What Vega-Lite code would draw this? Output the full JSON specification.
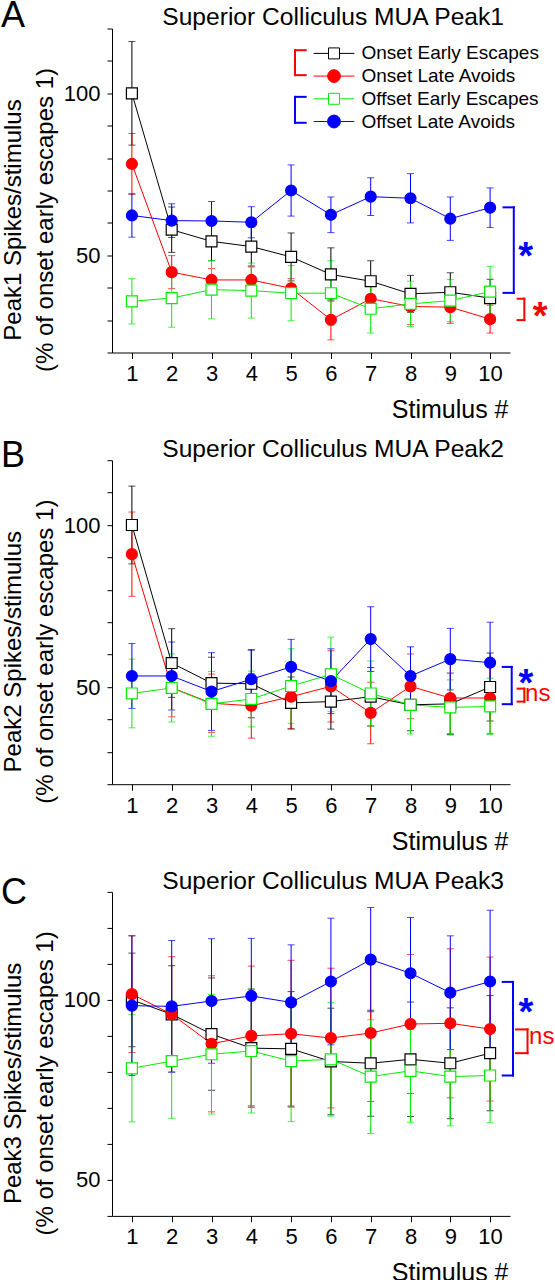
{
"$schema":"https://vega.github.io/schema/vega-lite/v6.json",
"background":"white",
"padding":{"left":0,"top":-2.5,"right":0,"bottom":0},
"config":{
 "font":"Liberation Sans",
 "view":{"stroke":null},
 "axis":{"domainColor":"#000","tickColor":"#000","labelColor":"#000","titleColor":"#000","grid":false,"labelFontSize":22,"titleFontSize":24,"titleFontWeight":"normal","domainWidth":1,"tickWidth":1,"labelFlush":false,"labelOverlap":false},
 "axisX":{"tickSize":6,"labelPadding":5,"tickCount":10,"format":"d","titleX":396,"titleY":65,"titleAlign":"right","titleBaseline":"alphabetic","titleAnchor":"end","titleFontSize":25},
 "axisY":{"tickSize":5,"labelPadding":7,"tickCount":10,"labelExpr":"datum.value % 50 === 0 ? datum.label : ''","titleX":-99,"titleY":191,"titleAlign":"center","titleBaseline":"middle","titleAngle":270,"titleLineHeight":32}
},
"datasets":{"d":[
{"panel":"A","series":"Onset Early Escapes","stim":1,"mean":100,"err":16},
{"panel":"A","series":"Onset Early Escapes","stim":2,"mean":57.9,"err":7},
{"panel":"A","series":"Onset Early Escapes","stim":3,"mean":54.3,"err":6},
{"panel":"A","series":"Onset Early Escapes","stim":4,"mean":52.7,"err":6},
{"panel":"A","series":"Onset Early Escapes","stim":5,"mean":49.5,"err":7.4},
{"panel":"A","series":"Onset Early Escapes","stim":6,"mean":44.1,"err":8.2},
{"panel":"A","series":"Onset Early Escapes","stim":7,"mean":42.0,"err":6.3},
{"panel":"A","series":"Onset Early Escapes","stim":8,"mean":38.1,"err":5.7},
{"panel":"A","series":"Onset Early Escapes","stim":9,"mean":38.6,"err":6},
{"panel":"A","series":"Onset Early Escapes","stim":10,"mean":36.8,"err":5.8},
{"panel":"A","series":"Onset Late Avoids","stim":1,"mean":78.2,"err":9.4},
{"panel":"A","series":"Onset Late Avoids","stim":2,"mean":44.8,"err":5.1},
{"panel":"A","series":"Onset Late Avoids","stim":3,"mean":42.4,"err":3.5},
{"panel":"A","series":"Onset Late Avoids","stim":4,"mean":42.4,"err":4},
{"panel":"A","series":"Onset Late Avoids","stim":5,"mean":39.8,"err":3},
{"panel":"A","series":"Onset Late Avoids","stim":6,"mean":30.1,"err":6.2},
{"panel":"A","series":"Onset Late Avoids","stim":7,"mean":36.6,"err":4},
{"panel":"A","series":"Onset Late Avoids","stim":8,"mean":34.2,"err":5.6},
{"panel":"A","series":"Onset Late Avoids","stim":9,"mean":34.0,"err":5},
{"panel":"A","series":"Onset Late Avoids","stim":10,"mean":30.3,"err":4.3},
{"panel":"A","series":"Offset Early Escapes","stim":1,"mean":35.8,"err":7},
{"panel":"A","series":"Offset Early Escapes","stim":2,"mean":36.8,"err":9},
{"panel":"A","series":"Offset Early Escapes","stim":3,"mean":39.4,"err":9},
{"panel":"A","series":"Offset Early Escapes","stim":4,"mean":39.1,"err":8.5},
{"panel":"A","series":"Offset Early Escapes","stim":5,"mean":38.3,"err":8.5},
{"panel":"A","series":"Offset Early Escapes","stim":6,"mean":38.3,"err":10},
{"panel":"A","series":"Offset Early Escapes","stim":7,"mean":33.5,"err":7.5},
{"panel":"A","series":"Offset Early Escapes","stim":8,"mean":35.0,"err":7},
{"panel":"A","series":"Offset Early Escapes","stim":9,"mean":36.0,"err":6.5},
{"panel":"A","series":"Offset Early Escapes","stim":10,"mean":38.8,"err":7.8},
{"panel":"A","series":"Offset Late Avoids","stim":1,"mean":62.3,"err":6.7},
{"panel":"A","series":"Offset Late Avoids","stim":2,"mean":60.7,"err":5.2},
{"panel":"A","series":"Offset Late Avoids","stim":3,"mean":60.6,"err":6},
{"panel":"A","series":"Offset Late Avoids","stim":4,"mean":60.2,"err":4.8},
{"panel":"A","series":"Offset Late Avoids","stim":5,"mean":70.0,"err":7.9},
{"panel":"A","series":"Offset Late Avoids","stim":6,"mean":62.5,"err":5.5},
{"panel":"A","series":"Offset Late Avoids","stim":7,"mean":68.1,"err":5.8},
{"panel":"A","series":"Offset Late Avoids","stim":8,"mean":67.6,"err":7.6},
{"panel":"A","series":"Offset Late Avoids","stim":9,"mean":61.3,"err":6.7},
{"panel":"A","series":"Offset Late Avoids","stim":10,"mean":64.7,"err":6.1},
{"panel":"B","series":"Onset Early Escapes","stim":1,"mean":100,"err":12},
{"panel":"B","series":"Onset Early Escapes","stim":2,"mean":57.4,"err":10.6},
{"panel":"B","series":"Onset Early Escapes","stim":3,"mean":51.2,"err":8},
{"panel":"B","series":"Onset Early Escapes","stim":4,"mean":51.0,"err":10.5},
{"panel":"B","series":"Onset Early Escapes","stim":5,"mean":45.1,"err":8},
{"panel":"B","series":"Onset Early Escapes","stim":6,"mean":45.5,"err":8.5},
{"panel":"B","series":"Onset Early Escapes","stim":7,"mean":47.0,"err":9},
{"panel":"B","series":"Onset Early Escapes","stim":8,"mean":44.5,"err":8},
{"panel":"B","series":"Onset Early Escapes","stim":9,"mean":44.8,"err":9.5},
{"panel":"B","series":"Onset Early Escapes","stim":10,"mean":50.0,"err":10.5},
{"panel":"B","series":"Onset Late Avoids","stim":1,"mean":91.0,"err":13},
{"panel":"B","series":"Onset Late Avoids","stim":2,"mean":49.8,"err":9},
{"panel":"B","series":"Onset Late Avoids","stim":3,"mean":45.0,"err":9},
{"panel":"B","series":"Onset Late Avoids","stim":4,"mean":44.2,"err":10},
{"panel":"B","series":"Onset Late Avoids","stim":5,"mean":47.0,"err":10},
{"panel":"B","series":"Onset Late Avoids","stim":6,"mean":50.2,"err":11},
{"panel":"B","series":"Onset Late Avoids","stim":7,"mean":42.0,"err":9.5},
{"panel":"B","series":"Onset Late Avoids","stim":8,"mean":50.2,"err":10},
{"panel":"B","series":"Onset Late Avoids","stim":9,"mean":46.6,"err":11},
{"panel":"B","series":"Onset Late Avoids","stim":10,"mean":46.6,"err":11},
{"panel":"B","series":"Offset Early Escapes","stim":1,"mean":48.0,"err":10.6},
{"panel":"B","series":"Offset Early Escapes","stim":2,"mean":49.7,"err":10.5},
{"panel":"B","series":"Offset Early Escapes","stim":3,"mean":44.8,"err":10},
{"panel":"B","series":"Offset Early Escapes","stim":4,"mean":46.3,"err":8.6},
{"panel":"B","series":"Offset Early Escapes","stim":5,"mean":50.3,"err":11.5},
{"panel":"B","series":"Offset Early Escapes","stim":6,"mean":53.9,"err":11.5},
{"panel":"B","series":"Offset Early Escapes","stim":7,"mean":48.0,"err":10},
{"panel":"B","series":"Offset Early Escapes","stim":8,"mean":44.5,"err":9},
{"panel":"B","series":"Offset Early Escapes","stim":9,"mean":43.7,"err":8.5},
{"panel":"B","series":"Offset Early Escapes","stim":10,"mean":44.0,"err":8.7},
{"panel":"B","series":"Offset Late Avoids","stim":1,"mean":53.4,"err":10},
{"panel":"B","series":"Offset Late Avoids","stim":2,"mean":53.4,"err":10.5},
{"panel":"B","series":"Offset Late Avoids","stim":3,"mean":48.6,"err":12},
{"panel":"B","series":"Offset Late Avoids","stim":4,"mean":52.4,"err":9},
{"panel":"B","series":"Offset Late Avoids","stim":5,"mean":56.2,"err":8.5},
{"panel":"B","series":"Offset Late Avoids","stim":6,"mean":51.8,"err":10},
{"panel":"B","series":"Offset Late Avoids","stim":7,"mean":64.8,"err":10},
{"panel":"B","series":"Offset Late Avoids","stim":8,"mean":53.4,"err":9},
{"panel":"B","series":"Offset Late Avoids","stim":9,"mean":58.6,"err":9.5},
{"panel":"B","series":"Offset Late Avoids","stim":10,"mean":57.5,"err":12.5},
{"panel":"C","series":"Onset Early Escapes","stim":1,"mean":100,"err":13},
{"panel":"C","series":"Onset Early Escapes","stim":2,"mean":96.0,"err":13.5},
{"panel":"C","series":"Onset Early Escapes","stim":3,"mean":90.5,"err":15.6},
{"panel":"C","series":"Onset Early Escapes","stim":4,"mean":86.6,"err":16.4},
{"panel":"C","series":"Onset Early Escapes","stim":5,"mean":86.4,"err":15.9},
{"panel":"C","series":"Onset Early Escapes","stim":6,"mean":82.9,"err":14.8},
{"panel":"C","series":"Onset Early Escapes","stim":7,"mean":82.4,"err":14.7},
{"panel":"C","series":"Onset Early Escapes","stim":8,"mean":83.5,"err":15.9},
{"panel":"C","series":"Onset Early Escapes","stim":9,"mean":82.4,"err":15.4},
{"panel":"C","series":"Onset Early Escapes","stim":10,"mean":85.2,"err":16},
{"panel":"C","series":"Onset Late Avoids","stim":1,"mean":101.6,"err":16.2},
{"panel":"C","series":"Onset Late Avoids","stim":2,"mean":96.0,"err":16},
{"panel":"C","series":"Onset Late Avoids","stim":3,"mean":87.8,"err":18.9},
{"panel":"C","series":"Onset Late Avoids","stim":4,"mean":90.0,"err":19.4},
{"panel":"C","series":"Onset Late Avoids","stim":5,"mean":90.6,"err":20.4},
{"panel":"C","series":"Onset Late Avoids","stim":6,"mean":89.4,"err":19.4},
{"panel":"C","series":"Onset Late Avoids","stim":7,"mean":90.8,"err":19},
{"panel":"C","series":"Onset Late Avoids","stim":8,"mean":93.3,"err":19.3},
{"panel":"C","series":"Onset Late Avoids","stim":9,"mean":93.5,"err":20.7},
{"panel":"C","series":"Onset Late Avoids","stim":10,"mean":91.9,"err":20},
{"panel":"C","series":"Offset Early Escapes","stim":1,"mean":81.0,"err":14.9},
{"panel":"C","series":"Offset Early Escapes","stim":2,"mean":83.0,"err":15.9},
{"panel":"C","series":"Offset Early Escapes","stim":3,"mean":84.9,"err":16.6},
{"panel":"C","series":"Offset Early Escapes","stim":4,"mean":85.8,"err":17.2},
{"panel":"C","series":"Offset Early Escapes","stim":5,"mean":83.0,"err":16.8},
{"panel":"C","series":"Offset Early Escapes","stim":6,"mean":83.5,"err":15.8},
{"panel":"C","series":"Offset Early Escapes","stim":7,"mean":78.7,"err":15.8},
{"panel":"C","series":"Offset Early Escapes","stim":8,"mean":80.3,"err":14.3},
{"panel":"C","series":"Offset Early Escapes","stim":9,"mean":78.7,"err":13.7},
{"panel":"C","series":"Offset Early Escapes","stim":10,"mean":79.0,"err":13.1},
{"panel":"C","series":"Offset Late Avoids","stim":1,"mean":98.4,"err":19.4},
{"panel":"C","series":"Offset Late Avoids","stim":2,"mean":98.2,"err":18.3},
{"panel":"C","series":"Offset Late Avoids","stim":3,"mean":99.7,"err":17.3},
{"panel":"C","series":"Offset Late Avoids","stim":4,"mean":101.1,"err":16},
{"panel":"C","series":"Offset Late Avoids","stim":5,"mean":99.3,"err":16},
{"panel":"C","series":"Offset Late Avoids","stim":6,"mean":105.1,"err":17.6},
{"panel":"C","series":"Offset Late Avoids","stim":7,"mean":111.2,"err":14.5},
{"panel":"C","series":"Offset Late Avoids","stim":8,"mean":107.4,"err":15.5},
{"panel":"C","series":"Offset Late Avoids","stim":9,"mean":102.0,"err":15.8},
{"panel":"C","series":"Offset Late Avoids","stim":10,"mean":105.1,"err":19.8}
]},
"bounds":"flush",
"spacing":107.7,
"resolve":{"scale":{"x":"independent","y":"independent"},"legend":{"stroke":"independent"}},
"vconcat":[
{
 "width":398,"height":324,
 "layer":[
  {"data":{"name":"d"},"transform":[{"filter":"datum.panel === 'A'"}],
   "layer":[
    {"mark":{"type":"errorbar","ticks":{"size":7,"thickness":1},"rule":{"strokeWidth":1}},
     "encoding":{"x":{"field":"stim","type":"quantitative","scale":{"domain":[0.5,10.5],"nice":false,"zero":false},"title":"Stimulus #"},
      "y":{"field":"mean","type":"quantitative","scale":{"domain":[20,120],"nice":false,"zero":false},"title":["Peak1 Spikes/stimulus","(% of onset early escapes 1)"]},
      "yError":{"field":"err"},
      "color":{"field":"series","type":"nominal","scale":{"domain":["Onset Early Escapes","Onset Late Avoids","Offset Early Escapes","Offset Late Avoids"],"range":["#000000","#ff0000","#00ee00","#0000ff"]},"legend":null}}},
    {"mark":{"type":"line","strokeWidth":1},
     "encoding":{"x":{"field":"stim","type":"quantitative","scale":{"domain":[0.5,10.5],"nice":false,"zero":false},"title":"Stimulus #"},
      "y":{"field":"mean","type":"quantitative","scale":{"domain":[20,120],"nice":false,"zero":false},"title":["Peak1 Spikes/stimulus","(% of onset early escapes 1)"]},
      "color":{"field":"series","type":"nominal","scale":{"domain":["Onset Early Escapes","Onset Late Avoids","Offset Early Escapes","Offset Late Avoids"],"range":["#000000","#ff0000","#00ee00","#0000ff"]},"legend":null}}},
    {"mark":{"type":"point","size":120,"opacity":1,"strokeWidth":1.2},
     "encoding":{"x":{"field":"stim","type":"quantitative","scale":{"domain":[0.5,10.5],"nice":false,"zero":false},"title":"Stimulus #"},
      "y":{"field":"mean","type":"quantitative","scale":{"domain":[20,120],"nice":false,"zero":false},"title":["Peak1 Spikes/stimulus","(% of onset early escapes 1)"]},
      "stroke":{"field":"series","type":"nominal","scale":{"domain":["Onset Early Escapes","Onset Late Avoids","Offset Early Escapes","Offset Late Avoids"],"range":["#000000","#ff0000","#00ee00","#0000ff"]},
        "legend":{"orient":"none","legendX":212.5,"legendY":15.4,"title":null,"padding":0,"symbolSize":324,"symbolStrokeWidth":1,"labelFontSize":19,"labelColor":"#000","labelOffset":18,"rowPadding":2.7,"labelLimit":400,
          "encoding":{"symbols":{
            "shape":{"value":{"expr":"(datum.value === 'Onset Late Avoids' || datum.value === 'Offset Late Avoids') ? 'M-2.26,0H-0.71M0.71,0H2.26M-0.71,0A0.71,0.71,0,1,1,0.71,0A0.71,0.71,0,1,1,-0.71,0Z' : 'M-2.26,0H-0.61M0.61,0H2.26M-0.61,-0.61H0.61V0.61H-0.61Z'"}},
            "fill":{"value":{"expr":"datum.value === 'Onset Late Avoids' ? '#ff0000' : datum.value === 'Offset Late Avoids' ? '#0000ff' : '#ffffff'"}},
            "stroke":{"value":{"expr":"datum.value === 'Onset Early Escapes' ? '#000000' : datum.value === 'Onset Late Avoids' ? '#ff0000' : datum.value === 'Offset Early Escapes' ? '#00ee00' : '#0000ff'"}},
            "opacity":{"value":1},"size":{"value":324},"strokeWidth":{"value":1}}}}},
      "fill":{"field":"series","type":"nominal","scale":{"domain":["Onset Early Escapes","Onset Late Avoids","Offset Early Escapes","Offset Late Avoids"],"range":["#ffffff","#ff0000","#ffffff","#0000ff"]},"legend":null},
      "shape":{"field":"series","type":"nominal","scale":{"domain":["Onset Early Escapes","Onset Late Avoids","Offset Early Escapes","Offset Late Avoids"],"range":["square","circle","square","circle"]},"legend":null}}}
   ]},
  {"data":{"values":[{}]},"mark":{"type":"text","text":"Superior Colliculus MUA Peak1","fontSize":24.6,"color":"#000","align":"right","baseline":"alphabetic","clip":false},"encoding":{"x":{"datum":10.349,"scale":{"domain":[0.5,10.5],"nice":false,"zero":false}},"y":{"datum":120.93,"scale":{"domain":[20,120],"nice":false,"zero":false}}}},
  {"data":{"values":[{}]},"mark":{"type":"rule","color":"#0000ff","strokeWidth":2,"strokeCap":"square","clip":false},"encoding":{"x":{"datum":10.337,"scale":{"domain":[0.5,10.5],"nice":false,"zero":false}},"x2":{"datum":10.595},"y":{"datum":64.8,"scale":{"domain":[20,120],"nice":false,"zero":false}}}},
  {"data":{"values":[{}]},"mark":{"type":"rule","color":"#0000ff","strokeWidth":2,"strokeCap":"square","clip":false},"encoding":{"x":{"datum":10.337,"scale":{"domain":[0.5,10.5],"nice":false,"zero":false}},"x2":{"datum":10.595},"y":{"datum":38.4,"scale":{"domain":[20,120],"nice":false,"zero":false}}}},
  {"data":{"values":[{}]},"mark":{"type":"rule","color":"#0000ff","strokeWidth":2,"strokeCap":"square","clip":false},"encoding":{"x":{"datum":10.595,"scale":{"domain":[0.5,10.5],"nice":false,"zero":false}},"y":{"datum":64.8,"scale":{"domain":[20,120],"nice":false,"zero":false}},"y2":{"datum":38.4}}},
  {"data":{"values":[{}]},"mark":{"type":"rule","color":"#ff0000","strokeWidth":2,"strokeCap":"square","clip":false},"encoding":{"x":{"datum":10.69,"scale":{"domain":[0.5,10.5],"nice":false,"zero":false}},"x2":{"datum":10.86},"y":{"datum":36.6,"scale":{"domain":[20,120],"nice":false,"zero":false}}}},
  {"data":{"values":[{}]},"mark":{"type":"rule","color":"#ff0000","strokeWidth":2,"strokeCap":"square","clip":false},"encoding":{"x":{"datum":10.69,"scale":{"domain":[0.5,10.5],"nice":false,"zero":false}},"x2":{"datum":10.86},"y":{"datum":30.0,"scale":{"domain":[20,120],"nice":false,"zero":false}}}},
  {"data":{"values":[{}]},"mark":{"type":"rule","color":"#ff0000","strokeWidth":2,"strokeCap":"square","clip":false},"encoding":{"x":{"datum":10.86,"scale":{"domain":[0.5,10.5],"nice":false,"zero":false}},"y":{"datum":36.6,"scale":{"domain":[20,120],"nice":false,"zero":false}},"y2":{"datum":30.0}}},
  {"data":{"values":[{}]},"mark":{"type":"rule","color":"#ff0000","strokeWidth":2,"strokeCap":"square","clip":false},"encoding":{"x":{"datum":5.098,"scale":{"domain":[0.5,10.5],"nice":false,"zero":false}},"x2":{"datum":5.367},"y":{"datum":113.3,"scale":{"domain":[20,120],"nice":false,"zero":false}}}},
  {"data":{"values":[{}]},"mark":{"type":"rule","color":"#ff0000","strokeWidth":2,"strokeCap":"square","clip":false},"encoding":{"x":{"datum":5.098,"scale":{"domain":[0.5,10.5],"nice":false,"zero":false}},"x2":{"datum":5.367},"y":{"datum":105.6,"scale":{"domain":[20,120],"nice":false,"zero":false}}}},
  {"data":{"values":[{}]},"mark":{"type":"rule","color":"#ff0000","strokeWidth":2,"strokeCap":"square","clip":false},"encoding":{"x":{"datum":5.098,"scale":{"domain":[0.5,10.5],"nice":false,"zero":false}},"y":{"datum":113.3,"scale":{"domain":[20,120],"nice":false,"zero":false}},"y2":{"datum":105.6}}},
  {"data":{"values":[{}]},"mark":{"type":"rule","color":"#0000ff","strokeWidth":2,"strokeCap":"square","clip":false},"encoding":{"x":{"datum":5.098,"scale":{"domain":[0.5,10.5],"nice":false,"zero":false}},"x2":{"datum":5.367},"y":{"datum":98.9,"scale":{"domain":[20,120],"nice":false,"zero":false}}}},
  {"data":{"values":[{}]},"mark":{"type":"rule","color":"#0000ff","strokeWidth":2,"strokeCap":"square","clip":false},"encoding":{"x":{"datum":5.098,"scale":{"domain":[0.5,10.5],"nice":false,"zero":false}},"x2":{"datum":5.367},"y":{"datum":90.9,"scale":{"domain":[20,120],"nice":false,"zero":false}}}},
  {"data":{"values":[{}]},"mark":{"type":"rule","color":"#0000ff","strokeWidth":2,"strokeCap":"square","clip":false},"encoding":{"x":{"datum":5.098,"scale":{"domain":[0.5,10.5],"nice":false,"zero":false}},"y":{"datum":98.9,"scale":{"domain":[20,120],"nice":false,"zero":false}},"y2":{"datum":90.9}}},
  {"data":{"values":[{}]},"mark":{"type":"text","text":"*","fontSize":38,"fontWeight":"bold","color":"#0000ff","align":"center","baseline":"alphabetic","dy":21,"clip":false},"encoding":{"x":{"datum":10.895,"scale":{"domain":[0.5,10.5],"nice":false,"zero":false}},"y":{"datum":52.1,"scale":{"domain":[20,120],"nice":false,"zero":false}}}},
  {"data":{"values":[{}]},"mark":{"type":"text","text":"*","fontSize":38,"fontWeight":"bold","color":"#ff0000","align":"center","baseline":"alphabetic","dy":21,"clip":false},"encoding":{"x":{"datum":11.26,"scale":{"domain":[0.5,10.5],"nice":false,"zero":false}},"y":{"datum":33.6,"scale":{"domain":[20,120],"nice":false,"zero":false}}}},
  {"data":{"values":[{}]},"mark":{"type":"text","text":"A","fontSize":36,"color":"#000","align":"left","baseline":"alphabetic","clip":false},"encoding":{"x":{"datum":-2.289,"scale":{"domain":[0.5,10.5],"nice":false,"zero":false}},"y":{"datum":120.5,"scale":{"domain":[20,120],"nice":false,"zero":false}}}}
 ]
},
{
 "width":398,"height":324,
 "layer":[
  {"data":{"name":"d"},"transform":[{"filter":"datum.panel === 'B'"}],
   "layer":[
    {"mark":{"type":"errorbar","ticks":{"size":7,"thickness":1},"rule":{"strokeWidth":1}},
     "encoding":{"x":{"field":"stim","type":"quantitative","scale":{"domain":[0.5,10.5],"nice":false,"zero":false},"title":"Stimulus #"},
      "y":{"field":"mean","type":"quantitative","scale":{"domain":[20,120],"nice":false,"zero":false},"title":["Peak2 Spikes/stimulus","(% of onset early escapes 1)"]},
      "yError":{"field":"err"},
      "color":{"field":"series","type":"nominal","scale":{"domain":["Onset Early Escapes","Onset Late Avoids","Offset Early Escapes","Offset Late Avoids"],"range":["#000000","#ff0000","#00ee00","#0000ff"]},"legend":null}}},
    {"mark":{"type":"line","strokeWidth":1},
     "encoding":{"x":{"field":"stim","type":"quantitative","scale":{"domain":[0.5,10.5],"nice":false,"zero":false},"title":"Stimulus #"},
      "y":{"field":"mean","type":"quantitative","scale":{"domain":[20,120],"nice":false,"zero":false},"title":["Peak2 Spikes/stimulus","(% of onset early escapes 1)"]},
      "color":{"field":"series","type":"nominal","scale":{"domain":["Onset Early Escapes","Onset Late Avoids","Offset Early Escapes","Offset Late Avoids"],"range":["#000000","#ff0000","#00ee00","#0000ff"]},"legend":null}}},
    {"mark":{"type":"point","size":120,"opacity":1,"strokeWidth":1.2},
     "encoding":{"x":{"field":"stim","type":"quantitative","scale":{"domain":[0.5,10.5],"nice":false,"zero":false},"title":"Stimulus #"},
      "y":{"field":"mean","type":"quantitative","scale":{"domain":[20,120],"nice":false,"zero":false},"title":["Peak2 Spikes/stimulus","(% of onset early escapes 1)"]},
      "stroke":{"field":"series","type":"nominal","scale":{"domain":["Onset Early Escapes","Onset Late Avoids","Offset Early Escapes","Offset Late Avoids"],"range":["#000000","#ff0000","#00ee00","#0000ff"]},"legend":null},
      "fill":{"field":"series","type":"nominal","scale":{"domain":["Onset Early Escapes","Onset Late Avoids","Offset Early Escapes","Offset Late Avoids"],"range":["#ffffff","#ff0000","#ffffff","#0000ff"]},"legend":null},
      "shape":{"field":"series","type":"nominal","scale":{"domain":["Onset Early Escapes","Onset Late Avoids","Offset Early Escapes","Offset Late Avoids"],"range":["square","circle","square","circle"]},"legend":null}}}
   ]},
  {"data":{"values":[{}]},"mark":{"type":"text","text":"Superior Colliculus MUA Peak2","fontSize":24.6,"color":"#000","align":"right","baseline":"alphabetic","clip":false},"encoding":{"x":{"datum":10.349,"scale":{"domain":[0.5,10.5],"nice":false,"zero":false}},"y":{"datum":120.93,"scale":{"domain":[20,120],"nice":false,"zero":false}}}},
  {"data":{"values":[{}]},"mark":{"type":"rule","color":"#0000ff","strokeWidth":2,"strokeCap":"square","clip":false},"encoding":{"x":{"datum":10.317,"scale":{"domain":[0.5,10.5],"nice":false,"zero":false}},"x2":{"datum":10.543},"y":{"datum":56.2,"scale":{"domain":[20,120],"nice":false,"zero":false}}}},
  {"data":{"values":[{}]},"mark":{"type":"rule","color":"#0000ff","strokeWidth":2,"strokeCap":"square","clip":false},"encoding":{"x":{"datum":10.317,"scale":{"domain":[0.5,10.5],"nice":false,"zero":false}},"x2":{"datum":10.543},"y":{"datum":44.7,"scale":{"domain":[20,120],"nice":false,"zero":false}}}},
  {"data":{"values":[{}]},"mark":{"type":"rule","color":"#0000ff","strokeWidth":2,"strokeCap":"square","clip":false},"encoding":{"x":{"datum":10.543,"scale":{"domain":[0.5,10.5],"nice":false,"zero":false}},"y":{"datum":56.2,"scale":{"domain":[20,120],"nice":false,"zero":false}},"y2":{"datum":44.7}}},
  {"data":{"values":[{}]},"mark":{"type":"rule","color":"#ff0000","strokeWidth":2,"strokeCap":"square","clip":false},"encoding":{"x":{"datum":10.69,"scale":{"domain":[0.5,10.5],"nice":false,"zero":false}},"x2":{"datum":10.86},"y":{"datum":49.5,"scale":{"domain":[20,120],"nice":false,"zero":false}}}},
  {"data":{"values":[{}]},"mark":{"type":"rule","color":"#ff0000","strokeWidth":2,"strokeCap":"square","clip":false},"encoding":{"x":{"datum":10.69,"scale":{"domain":[0.5,10.5],"nice":false,"zero":false}},"x2":{"datum":10.86},"y":{"datum":45.5,"scale":{"domain":[20,120],"nice":false,"zero":false}}}},
  {"data":{"values":[{}]},"mark":{"type":"rule","color":"#ff0000","strokeWidth":2,"strokeCap":"square","clip":false},"encoding":{"x":{"datum":10.86,"scale":{"domain":[0.5,10.5],"nice":false,"zero":false}},"y":{"datum":49.5,"scale":{"domain":[20,120],"nice":false,"zero":false}},"y2":{"datum":45.5}}},
  {"data":{"values":[{}]},"mark":{"type":"text","text":"*","fontSize":38,"fontWeight":"bold","color":"#0000ff","align":"center","baseline":"alphabetic","dy":21,"clip":false},"encoding":{"x":{"datum":10.9,"scale":{"domain":[0.5,10.5],"nice":false,"zero":false}},"y":{"datum":53.6,"scale":{"domain":[20,120],"nice":false,"zero":false}}}},
  {"data":{"values":[{}]},"mark":{"type":"text","text":"ns","fontSize":24,"color":"#ff0000","align":"left","baseline":"alphabetic","dy":6,"clip":false},"encoding":{"x":{"datum":10.88,"scale":{"domain":[0.5,10.5],"nice":false,"zero":false}},"y":{"datum":47.5,"scale":{"domain":[20,120],"nice":false,"zero":false}}}},
  {"data":{"values":[{}]},"mark":{"type":"text","text":"B","fontSize":36,"color":"#000","align":"left","baseline":"alphabetic","clip":false},"encoding":{"x":{"datum":-2.289,"scale":{"domain":[0.5,10.5],"nice":false,"zero":false}},"y":{"datum":117.9,"scale":{"domain":[20,120],"nice":false,"zero":false}}}}
 ]
},
{
 "width":398,"height":324,
 "layer":[
  {"data":{"name":"d"},"transform":[{"filter":"datum.panel === 'C'"}],
   "layer":[
    {"mark":{"type":"errorbar","ticks":{"size":7,"thickness":1},"rule":{"strokeWidth":1}},
     "encoding":{"x":{"field":"stim","type":"quantitative","scale":{"domain":[0.5,10.5],"nice":false,"zero":false},"title":"Stimulus #"},
      "y":{"field":"mean","type":"quantitative","scale":{"domain":[40,130],"nice":false,"zero":false},"title":["Peak3 Spikes/stimulus","(% of onset early escapes 1)"]},
      "yError":{"field":"err"},
      "color":{"field":"series","type":"nominal","scale":{"domain":["Onset Early Escapes","Onset Late Avoids","Offset Early Escapes","Offset Late Avoids"],"range":["#000000","#ff0000","#00ee00","#0000ff"]},"legend":null}}},
    {"mark":{"type":"line","strokeWidth":1},
     "encoding":{"x":{"field":"stim","type":"quantitative","scale":{"domain":[0.5,10.5],"nice":false,"zero":false},"title":"Stimulus #"},
      "y":{"field":"mean","type":"quantitative","scale":{"domain":[40,130],"nice":false,"zero":false},"title":["Peak3 Spikes/stimulus","(% of onset early escapes 1)"]},
      "color":{"field":"series","type":"nominal","scale":{"domain":["Onset Early Escapes","Onset Late Avoids","Offset Early Escapes","Offset Late Avoids"],"range":["#000000","#ff0000","#00ee00","#0000ff"]},"legend":null}}},
    {"mark":{"type":"point","size":120,"opacity":1,"strokeWidth":1.2},
     "encoding":{"x":{"field":"stim","type":"quantitative","scale":{"domain":[0.5,10.5],"nice":false,"zero":false},"title":"Stimulus #"},
      "y":{"field":"mean","type":"quantitative","scale":{"domain":[40,130],"nice":false,"zero":false},"title":["Peak3 Spikes/stimulus","(% of onset early escapes 1)"]},
      "stroke":{"field":"series","type":"nominal","scale":{"domain":["Onset Early Escapes","Onset Late Avoids","Offset Early Escapes","Offset Late Avoids"],"range":["#000000","#ff0000","#00ee00","#0000ff"]},"legend":null},
      "fill":{"field":"series","type":"nominal","scale":{"domain":["Onset Early Escapes","Onset Late Avoids","Offset Early Escapes","Offset Late Avoids"],"range":["#ffffff","#ff0000","#ffffff","#0000ff"]},"legend":null},
      "shape":{"field":"series","type":"nominal","scale":{"domain":["Onset Early Escapes","Onset Late Avoids","Offset Early Escapes","Offset Late Avoids"],"range":["square","circle","square","circle"]},"legend":null}}}
   ]},
  {"data":{"values":[{}]},"mark":{"type":"text","text":"Superior Colliculus MUA Peak3","fontSize":24.6,"color":"#000","align":"right","baseline":"alphabetic","clip":false},"encoding":{"x":{"datum":10.349,"scale":{"domain":[0.5,10.5],"nice":false,"zero":false}},"y":{"datum":130.83,"scale":{"domain":[40,130],"nice":false,"zero":false}}}},
  {"data":{"values":[{}]},"mark":{"type":"rule","color":"#0000ff","strokeWidth":2,"strokeCap":"square","clip":false},"encoding":{"x":{"datum":10.317,"scale":{"domain":[0.5,10.5],"nice":false,"zero":false}},"x2":{"datum":10.575},"y":{"datum":105.0,"scale":{"domain":[40,130],"nice":false,"zero":false}}}},
  {"data":{"values":[{}]},"mark":{"type":"rule","color":"#0000ff","strokeWidth":2,"strokeCap":"square","clip":false},"encoding":{"x":{"datum":10.317,"scale":{"domain":[0.5,10.5],"nice":false,"zero":false}},"x2":{"datum":10.575},"y":{"datum":79.0,"scale":{"domain":[40,130],"nice":false,"zero":false}}}},
  {"data":{"values":[{}]},"mark":{"type":"rule","color":"#0000ff","strokeWidth":2,"strokeCap":"square","clip":false},"encoding":{"x":{"datum":10.575,"scale":{"domain":[0.5,10.5],"nice":false,"zero":false}},"y":{"datum":105.0,"scale":{"domain":[40,130],"nice":false,"zero":false}},"y2":{"datum":79.0}}},
  {"data":{"values":[{}]},"mark":{"type":"rule","color":"#ff0000","strokeWidth":2,"strokeCap":"square","clip":false},"encoding":{"x":{"datum":10.65,"scale":{"domain":[0.5,10.5],"nice":false,"zero":false}},"x2":{"datum":10.94},"y":{"datum":91.8,"scale":{"domain":[40,130],"nice":false,"zero":false}}}},
  {"data":{"values":[{}]},"mark":{"type":"rule","color":"#ff0000","strokeWidth":2,"strokeCap":"square","clip":false},"encoding":{"x":{"datum":10.65,"scale":{"domain":[0.5,10.5],"nice":false,"zero":false}},"x2":{"datum":10.94},"y":{"datum":85.2,"scale":{"domain":[40,130],"nice":false,"zero":false}}}},
  {"data":{"values":[{}]},"mark":{"type":"rule","color":"#ff0000","strokeWidth":2,"strokeCap":"square","clip":false},"encoding":{"x":{"datum":10.94,"scale":{"domain":[0.5,10.5],"nice":false,"zero":false}},"y":{"datum":91.8,"scale":{"domain":[40,130],"nice":false,"zero":false}},"y2":{"datum":85.2}}},
  {"data":{"values":[{}]},"mark":{"type":"text","text":"*","fontSize":38,"fontWeight":"bold","color":"#0000ff","align":"center","baseline":"alphabetic","dy":21,"clip":false},"encoding":{"x":{"datum":10.9,"scale":{"domain":[0.5,10.5],"nice":false,"zero":false}},"y":{"datum":98.8,"scale":{"domain":[40,130],"nice":false,"zero":false}}}},
  {"data":{"values":[{}]},"mark":{"type":"text","text":"ns","fontSize":24,"color":"#ff0000","align":"left","baseline":"alphabetic","dy":6,"clip":false},"encoding":{"x":{"datum":10.98,"scale":{"domain":[0.5,10.5],"nice":false,"zero":false}},"y":{"datum":89.3,"scale":{"domain":[40,130],"nice":false,"zero":false}}}},
  {"data":{"values":[{}]},"mark":{"type":"text","text":"C","fontSize":36,"color":"#000","align":"left","baseline":"alphabetic","clip":false},"encoding":{"x":{"datum":-2.289,"scale":{"domain":[0.5,10.5],"nice":false,"zero":false}},"y":{"datum":126.6,"scale":{"domain":[40,130],"nice":false,"zero":false}}}}
 ]
}
]
}
